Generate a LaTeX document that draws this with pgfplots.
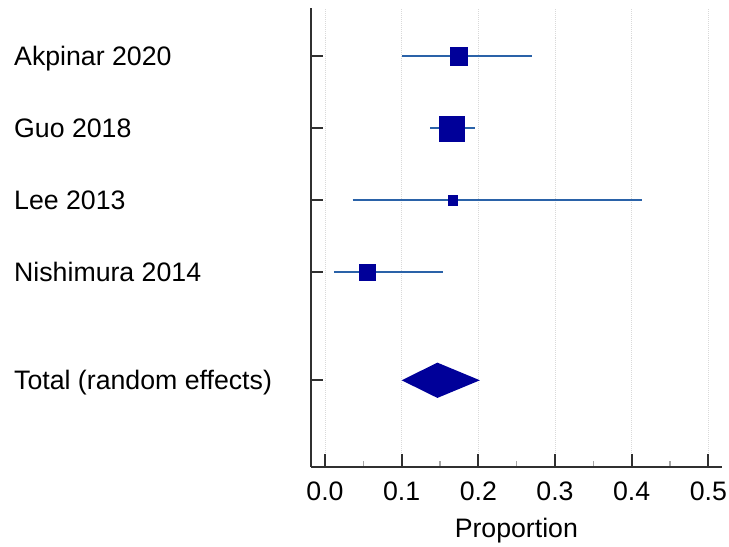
\documentclass[border=0pt]{standalone}
\usepackage{fontspec}
\setmainfont{Liberation Sans}
\usepackage{pgfplots}
\pgfplotsset{compat=1.18}

\definecolor{sqblue}{HTML}{000099}
\definecolor{ciblue}{HTML}{2A62A8}
\definecolor{axisgray}{HTML}{303030}

\newcommand{\chartfont}{\fontsize{26.7bp}{32bp}\selectfont}

\begin{document}
\begin{tikzpicture}
\useasboundingbox (-311bp,-80.3bp) rectangle (418bp,466.7bp);
\begin{axis}[
  at={(0,0)}, anchor=south west,
  scale only axis,
  width=410.7bp, height=458.7bp,
  xmin=-0.01826, xmax=0.5174,
  ymin=0.3, ymax=6.67,
  axis x line*=bottom, axis y line*=left,
  axis line style={-, axisgray, line width=2.2bp},
  xtick={0,0.1,0.2,0.3,0.4,0.5},
  minor x tick num=1,
  ytick={1.5,3,4,5,6},
  yticklabels={},
  tick align=inside,
  major tick length=12.5bp,
  minor tick length=6bp,
  tick style={axisgray, line width=2bp},
  minor tick style={gray!70, line width=1.2bp},
  xmajorgrids,
  grid style={gray!30, line width=1bp, densely dotted},
  /pgf/number format/assume math mode=true,
  xticklabel style={font=\chartfont, inner sep=0pt, yshift=-15bp,
    /pgf/number format/.cd, fixed, fixed zerofill, precision=1},
  xlabel={Proportion},
  xlabel style={font=\chartfont, at={(axis description cs:0.5,0)},
    anchor=base, yshift=-70.3bp},
  clip=false,
]
% confidence intervals
\addplot[ciblue, line width=2bp] coordinates {(0.101,6) (0.270,6)};
\addplot[ciblue, line width=2bp] coordinates {(0.137,5) (0.195,5)};
\addplot[ciblue, line width=2bp] coordinates {(0.036,4) (0.413,4)};
\addplot[ciblue, line width=2bp] coordinates {(0.0117,3) (0.1535,3)};
% point estimates, sized by weight
\addplot[only marks, mark=square*, mark size=8.65bp, color=sqblue] coordinates {(0.174,6)};
\addplot[only marks, mark=square*, mark size=12.5bp, color=sqblue] coordinates {(0.165,5)};
\addplot[only marks, mark=square*, mark size=4.65bp, color=sqblue] coordinates {(0.1665,4)};
\addplot[only marks, mark=square*, mark size=8.15bp, color=sqblue] coordinates {(0.0554,3)};
% pooled estimate
\addplot[fill=sqblue, draw=none] coordinates {(0.100,1.5) (0.1466,1.745) (0.202,1.5) (0.1466,1.255)} -- cycle;

\coordinate (r1) at (axis cs:0,6);
\coordinate (r2) at (axis cs:0,5);
\coordinate (r3) at (axis cs:0,4);
\coordinate (r4) at (axis cs:0,3);
\coordinate (r5) at (axis cs:0,1.5);
\end{axis}
\coordinate (L) at (-297bp,0);
\begin{scope}[every node/.style={anchor=base west, font=\chartfont, inner sep=0pt, yshift=-9.5bp}]
\node at (r1 -| L) {Akpinar 2020};
\node at (r2 -| L) {Guo 2018};
\node at (r3 -| L) {Lee 2013};
\node at (r4 -| L) {Nishimura 2014};
\node at (r5 -| L) {Total (random effects)};
\end{scope}
\end{tikzpicture}
\end{document}
